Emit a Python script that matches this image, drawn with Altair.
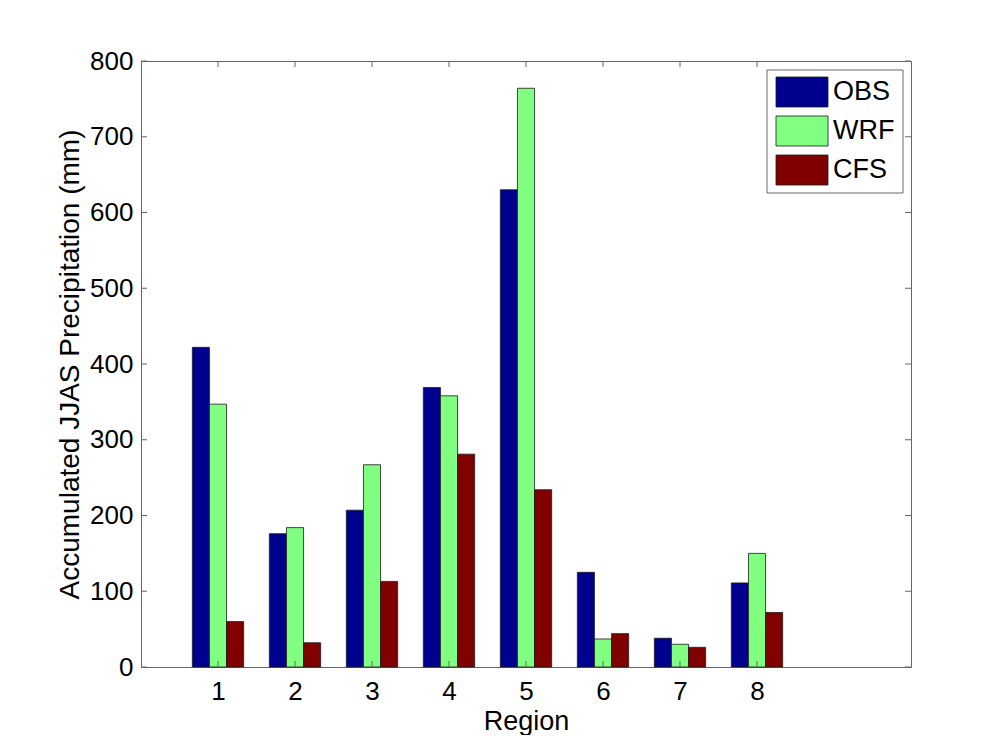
import altair as alt
import pandas as pd

# ---- data ----
regions = [1, 2, 3, 4, 5, 6, 7, 8]
obs = [422, 176, 207, 369, 630, 125, 38, 111]
wrf = [347, 184, 267, 358, 764, 37, 30, 150]
cfs = [60, 32, 113, 281, 234, 44, 26, 72]
series = ["OBS", "WRF", "CFS"]
colors = ["#00008f", "#80ff80", "#800000"]
y_ticks = [0, 100, 200, 300, 400, 500, 600, 700, 800]
x_ticks = regions

# ---- layout / style ----
W, H = 770, 606
FONT = "Liberation Sans"
FRAME = "#666666"
offsets = [-0.2222, 0.0, 0.2222]
half = 0.1111

rows = []
for name, vals, off in zip(series, [obs, wrf, cfs], offsets):
    for r, v in zip(regions, vals):
        rows.append({"region": r, "series": name, "value": v, "offset": off})
df = pd.DataFrame(rows)

xscale = alt.Scale(domain=[0, 10], nice=False, zero=False)
yscale = alt.Scale(domain=[0, 800], nice=False)

bars = alt.Chart(df).transform_calculate(
    x0=f"datum.region + datum.offset - {half}",
    x1=f"datum.region + datum.offset + {half}",
).mark_rect(stroke="#1a1a1a", strokeWidth=0.8).encode(
    x=alt.X("x0:Q", scale=xscale,
            axis=alt.Axis(values=x_ticks, format="d", title="Region", ticks=False,
                          domain=False, grid=False, labelFont=FONT, labelFontSize=26,
                          labelColor="black", labelPadding=11, titleFont=FONT,
                          titleFontSize=27, titleFontWeight="normal", titleColor="black",
                          titlePadding=4)),
    x2="x1:Q",
    y=alt.Y("value:Q", scale=yscale,
            axis=alt.Axis(values=y_ticks, format="d",
                          title="Accumulated JJAS Precipitation (mm)", ticks=False,
                          domain=False, grid=False, labelFont=FONT, labelFontSize=26,
                          labelColor="black", labelPadding=8, titleFont=FONT,
                          titleFontSize=28, titleFontWeight="normal", titleColor="black",
                          titlePadding=5)),
    y2=alt.datum(0),
    color=alt.Color("series:N", scale=alt.Scale(domain=series, range=colors), legend=None),
)

ydf = pd.DataFrame({"t": y_ticks})
xdf = pd.DataFrame({"t": x_ticks})
tick_len = 6
yt_left = alt.Chart(ydf).mark_rule(color=FRAME).encode(
    y=alt.Y("t:Q", scale=yscale, axis=None), x=alt.value(0), x2=alt.value(tick_len))
yt_right = alt.Chart(ydf).mark_rule(color=FRAME).encode(
    y=alt.Y("t:Q", scale=yscale, axis=None), x=alt.value(W - tick_len), x2=alt.value(W))
xt_bottom = alt.Chart(xdf).mark_rule(color=FRAME).encode(
    x=alt.X("t:Q", scale=xscale, axis=None), y=alt.value(H - tick_len), y2=alt.value(H))
xt_top = alt.Chart(xdf).mark_rule(color=FRAME).encode(
    x=alt.X("t:Q", scale=xscale, axis=None), y=alt.value(0), y2=alt.value(tick_len))

# ---- legend (drawn manually, MATLAB style) ----
one = pd.DataFrame({"a": [0]})
legend_layers = [
    alt.Chart(one).mark_rect(fill="white", stroke=FRAME, strokeWidth=1).encode(
        x=alt.value(626), x2=alt.value(762), y=alt.value(9), y2=alt.value(132))
]
for i, (name, col) in enumerate(zip(series, colors)):
    top = 16 + i * 39
    d = pd.DataFrame({"series": [name]})
    legend_layers.append(
        alt.Chart(d).mark_rect(fill=col, stroke="#1a1a1a", strokeWidth=0.8).encode(
            x=alt.value(635), x2=alt.value(687), y=alt.value(top), y2=alt.value(top + 30)))
    legend_layers.append(
        alt.Chart(d).mark_text(font=FONT, fontSize=27, align="left", baseline="middle",
                               color="black").encode(
            text="series:N", x=alt.value(692), y=alt.value(top + 15)))

chart = alt.layer(bars, yt_left, yt_right, xt_bottom, xt_top, *legend_layers).resolve_axis(
    x="independent", y="independent"
).properties(
    width=W, height=H,
    autosize=alt.AutoSizeParams(type="none"),
    padding={"left": 133, "top": 53, "right": 88, "bottom": 68},
    background="white",
).configure_view(stroke=FRAME, strokeWidth=1)

chart.save("out.html", embed_options={"renderer": "svg", "actions": False})
